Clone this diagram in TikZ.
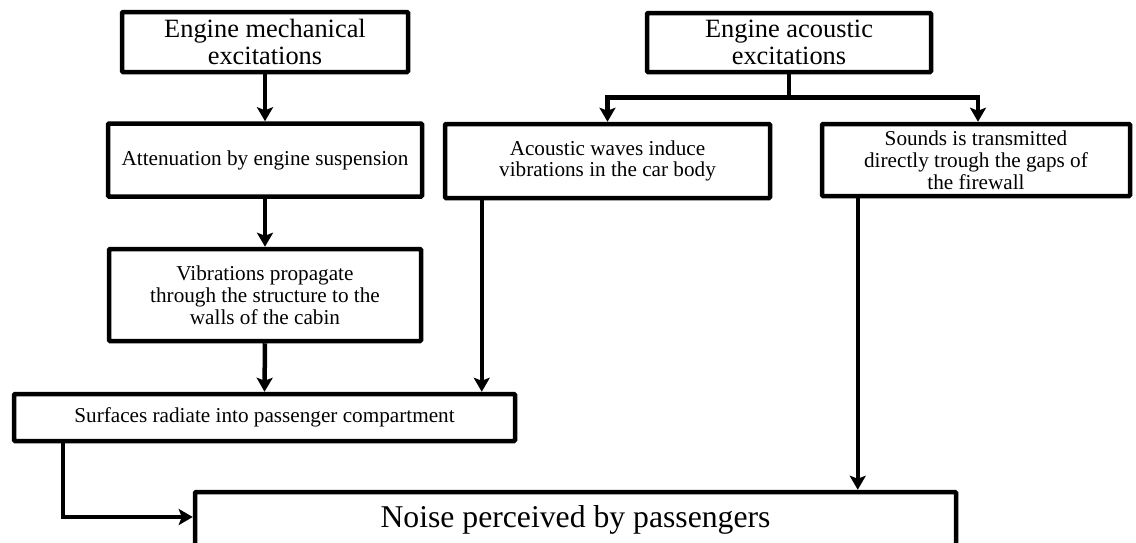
\documentclass[tikz,border=0pt]{standalone}
\usepackage{fontspec}
\setmainfont{Liberation Serif}
\usetikzlibrary{arrows.meta}
\tikzset{
  box/.style={draw=black, line width=4.5pt, rounded corners=1pt, fill=white, align=center, inner sep=0pt},
  smalltext/.style={font=\fontsize{21.2}{21.8}\selectfont},
  headtext/.style={font=\fontsize{26.4}{26.5}\selectfont},
  bigtext/.style={font=\fontsize{31.7}{34}\selectfont},
  arr/.style={line width=4.5pt, -{Stealth[length=14pt,width=16pt,inset=3pt]}},
  ln/.style={line width=4.5pt}
}
\begin{document}
\begin{tikzpicture}[x=1pt,y=-1pt]
\useasboundingbox (0,0) rectangle (1136,542);
\clip (0,0) rectangle (1136,542);
% left column
\node[box, headtext, minimum width=286pt, minimum height=60pt] (b1) at (265,42) {Engine mechanical\\excitations};
\node[box, smalltext, minimum width=314pt, minimum height=73pt] (b2) at (265,160) {Attenuation by engine suspension};
\node[box, smalltext, minimum width=312pt, minimum height=92pt] (b3) at (265,295) {Vibrations propagate\\through the structure to the\\walls of the cabin};
\node[box, smalltext, minimum width=501pt, minimum height=47pt] (b4) at (264.5,417.5) {Surfaces radiate into passenger compartment};
\node[box, bigtext, minimum width=761pt, minimum height=56pt] (b5) at (575.5,520) {Noise perceived by passengers};
% right part
\node[box, headtext, minimum width=284pt, minimum height=59pt] (b6) at (789,42.5) {Engine acoustic\\excitations};
\node[box, smalltext, minimum width=325pt, minimum height=74pt] (b7) at (607.5,161) {Acoustic waves induce\\vibrations in the car body};
\node[box, smalltext, minimum width=308pt, minimum height=72pt] (b8) at (976,160) {Sounds is transmitted\\directly trough the gaps of\\the firewall};
% connectors
\draw[arr] (b1.south) -- (b2.north);
\draw[arr] (b2.south) -- (b3.north);
\draw[arr] (b3.south) -- (b4.north);
\draw[ln] (b6.south) -- ++(0,23) coordinate (sp);
\draw[arr] (sp) -| (b7.north);
\draw[arr] (sp) -| ([xshift=2pt]b8.north);
\draw[arr] ([xshift=39pt]b7.south west) -- ([xshift=39pt]b7.south west |- b4.north);
\draw[arr] ([xshift=38pt]b8.south west) -- ([xshift=38pt]b8.south west |- b5.north);
\draw[arr] ([xshift=51pt]b4.south west) |- ([yshift=3pt]b5.west);
\end{tikzpicture}
\end{document}
